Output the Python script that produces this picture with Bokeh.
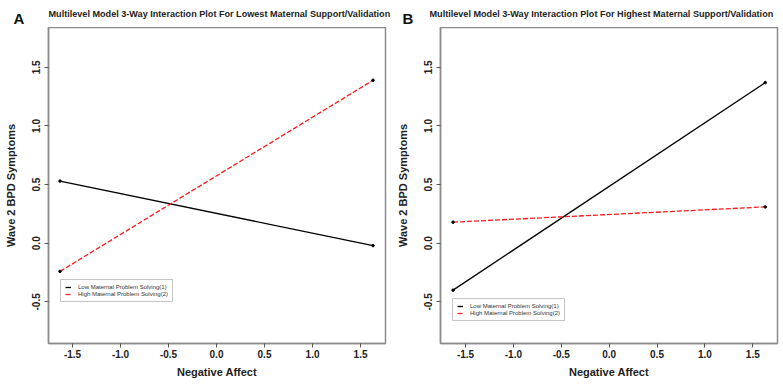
from bokeh.plotting import figure
from bokeh.layouts import row, column
from bokeh.models import Range1d, FixedTicker, Label, Legend, LegendItem
from bokeh.embed import file_html
from bokeh.resources import INLINE

# ---- data ----
x_vals = [-1.63, 1.63]
a_low = [0.53, -0.02]
a_high = [-0.24, 1.39]
b_low = [-0.40, 1.37]
b_high = [0.18, 0.31]
x_ticks = [-1.5, -1.0, -0.5, 0.0, 0.5, 1.0, 1.5]
y_ticks = [-0.5, 0.0, 0.5, 1.0, 1.5]
legend_labels = ["Low Maternal Problem Solving(1)", "High Maternal Problem Solving(2)"]
titles = ["Multilevel Model 3-Way Interaction Plot For Lowest Maternal Support/Validation",
          "Multilevel Model 3-Way Interaction Plot For Highest Maternal Support/Validation"]
panel_letters = ["A", "B"]

FONT = "Liberation Sans"
GRAY = "#8c8c8c"
TOTAL_W = 783
HEADER_H = 27

# ---- header strip holding the panel letters and titles ----
hdr = figure(width=TOTAL_W, height=HEADER_H, x_range=Range1d(0, TOTAL_W),
             y_range=Range1d(0, HEADER_H), min_border=0,
             x_axis_location=None, y_axis_location=None,
             output_backend="svg", toolbar_location=None)
hdr.grid.visible = False
hdr.outline_line_color = None
hdr.background_fill_color = "white"
hdr.border_fill_color = "white"
for letter, lx in zip(panel_letters, [13, 402]):
    hdr.add_layout(Label(x=lx, y=9.5, text=letter, text_font=FONT,
                         text_font_size="15px", text_font_style="bold",
                         text_color="#111111", text_baseline="alphabetic"))
for title, tx in zip(titles, [48, 429]):
    hdr.add_layout(Label(x=tx, y=14, text=title, text_font=FONT,
                         text_font_size="9.1px", text_font_style="bold",
                         text_color="#222222", text_baseline="alphabetic"))


def make_panel(low, high, xr, border_left, frame_w, border_right, legend_loc):
    p = figure(frame_width=frame_w, frame_height=316,
               min_border_left=border_left, min_border_right=border_right,
               min_border_top=0, min_border_bottom=35,
               x_range=Range1d(*xr), y_range=Range1d(-0.855, 1.84),
               output_backend="svg", toolbar_location=None)
    p.grid.visible = False
    p.outline_line_color = GRAY
    p.outline_line_width = 1.5
    p.background_fill_color = "white"
    p.border_fill_color = "white"

    for ax in (p.xaxis[0], p.yaxis[0]):
        ax.axis_line_color = GRAY
        ax.axis_line_width = 1.5
        ax.major_tick_line_color = "#555555"
        ax.major_tick_in = 0
        ax.major_tick_out = 4
        ax.minor_tick_line_color = None
        ax.major_label_text_font = FONT
        ax.major_label_text_font_size = "10px"
        ax.major_label_text_font_style = "bold"
        ax.major_label_text_color = "#222222"
        ax.axis_label_text_font = FONT
        ax.axis_label_text_font_size = "11px"
        ax.axis_label_text_font_style = "bold"
        ax.axis_label_text_color = "#222222"
    p.xaxis.ticker = FixedTicker(ticks=x_ticks)
    p.yaxis.ticker = FixedTicker(ticks=y_ticks)
    p.xaxis.major_label_overrides = {t: f"{t:.1f}" for t in x_ticks}
    p.yaxis.major_label_overrides = {t: f"{t:.1f}" for t in y_ticks}
    p.yaxis.major_label_orientation = "vertical"
    p.xaxis.major_label_standoff = 2
    p.yaxis.major_label_standoff = 4
    p.xaxis.axis_label = "Negative Affect"
    p.yaxis.axis_label = "Wave 2 BPD Symptoms"
    p.xaxis.axis_label_standoff = 5
    p.yaxis.axis_label_standoff = 13

    r1 = p.line(x_vals, low, line_color="black", line_width=1.3)
    r2 = p.line(x_vals, high, line_color="#ff1a1a", line_width=1.3, line_dash="5 2")
    p.scatter(x_vals, low, size=2.5, color="black")
    p.scatter(x_vals, high, size=2.5, color="black")

    leg = Legend(items=[LegendItem(label=legend_labels[0], renderers=[r1]),
                        LegendItem(label=legend_labels[1], renderers=[r2])],
                 location=legend_loc)
    leg.label_text_font = FONT
    leg.label_text_font_size = "6px"
    leg.label_text_color = "#333333"
    leg.label_height = 6
    leg.glyph_width = 6
    leg.glyph_height = 6
    leg.label_standoff = 7
    leg.padding = 4
    leg.spacing = 1
    leg.border_line_color = GRAY
    leg.border_line_width = 1
    leg.background_fill_color = "white"
    leg.background_fill_alpha = 1
    p.add_layout(leg)
    return p


pa = make_panel(a_low, a_high, (-1.75, 1.76), 48, 337, 5, (12, 41))
pb = make_panel(b_low, b_high, (-1.761, 1.758), 50, 337, 6, (12, 22))

layout = column(hdr, row(pa, pb, spacing=0), spacing=0)
open("out.html", "w").write(file_html(layout, INLINE))
